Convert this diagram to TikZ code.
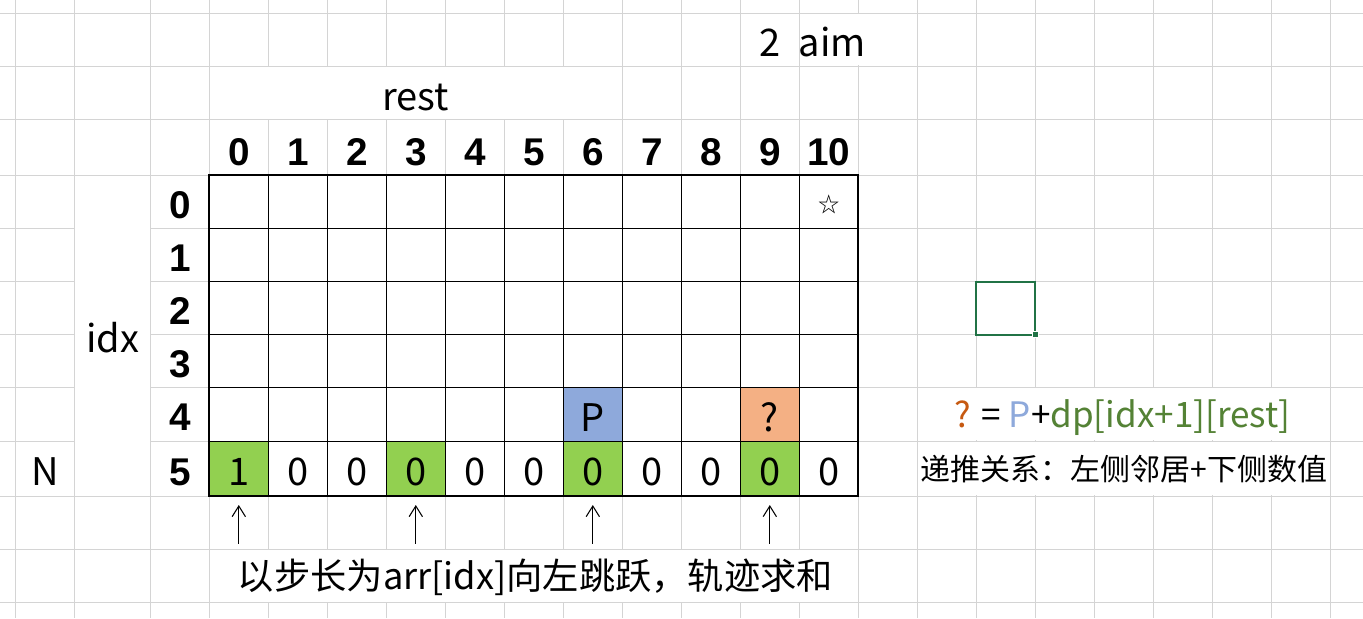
\documentclass[tikz,border=0pt]{standalone}
\usepackage{fontspec}
\setmainfont{Noto Sans CJK SC}
\newfontfamily\headfont{Liberation Sans}
\usetikzlibrary{arrows.meta}
\definecolor{gridgray}{HTML}{D4D4D4}
\definecolor{cellgreen}{HTML}{92D050}
\definecolor{cellblue}{HTML}{8EA9DB}
\definecolor{cellorange}{HTML}{F4B084}
\definecolor{qbrown}{HTML}{C65911}
\definecolor{dpgreen}{HTML}{548235}
\definecolor{selgreen}{HTML}{217346}
\begin{document}
\begin{tikzpicture}[x=0.75pt, y=-0.75pt,
  every node/.style = {inner sep=0pt, font=\fontsize{28.5}{30}\selectfont},
  gridline/.style = {draw=gridgray, line width=0.75pt},
  cellline/.style = {draw=black, line width=0.75pt},
  merged/.style = {fill=white},
  head/.style = {anchor=base, font=\headfont\bfseries\fontsize{29}{30}\selectfont},
  val/.style = {anchor=base},
  jump/.style = {-{Straight Barb[length=8pt,width=10pt]}, line width=0.8pt}]
  \fill[white] (0,0) rectangle (1363,618);
  \useasboundingbox (0,0) rectangle (1363,618);
  % sheet grid
  \foreach \x in {15.7,74.3,150.7} \draw[gridline] (\x,0) -- (\x,618);
  \foreach \k in {0,...,19} \draw[gridline] ({209.3+59*\k},0) -- ({209.3+59*\k},618);
  \foreach \y in {13.3,66,119.3,175,228.3,281.5,334.5,387.5,441,496,549.3,602.5}
    \draw[gridline] (0,\y) -- (1363,\y);
  \fill[merged] (210,66.6) rectangle (621.6,118.7);
  \fill[merged] (800,13.9) rectangle (916.6,65.4);
  \fill[merged] (74.9,175.6) rectangle (150.1,495.4);
  \fill[merged] (917.9,388.1) rectangle (1329.9,440.4);
  \fill[merged] (917.9,441.6) rectangle (1329.9,495.4);
  \fill[merged] (209.9,549.9) rectangle (857.7,601.9);
  % dp table
  \fill[white] (209.3,175) rectangle (858.3,496);
  \foreach \c in {0,3,6,9} \fill[cellgreen] ({209.3+59*\c},441) rectangle ({268.3+59*\c},496);
  \fill[cellblue] (563.3,387.5) rectangle (622.3,441);
  \fill[cellorange] (740.3,387.5) rectangle (799.3,441);
  \foreach \k in {1,...,10} \draw[cellline] ({209.3+59*\k},175) -- ({209.3+59*\k},496);
  \foreach \y in {228.3,281.5,334.5,387.5,441} \draw[cellline] (209.3,\y) -- (858.3,\y);
  \draw[line width=1.6pt] (209.3,175) rectangle (858.3,496);
  % selected cell
  \draw[selgreen, line width=1.5pt] (976.3,281.5) rectangle (1035.3,334.5);
  \filldraw[fill=selgreen, draw=white, line width=0.5pt] (1032.3,331.5) rectangle (1038.3,337.5);

  \node[val] (two) at (769.7,56.7) {2};
  \node[val, anchor=base west] (aim) at (798.5,56.7) {aim};
  \node[val] (rest) at (415.8,110) {rest};
  \foreach \c in {0,...,10} \node[head] (col\c) at ({238.8+59*\c},165) {\c};
  \foreach \r/\y in {0/201.7,1/254.9,2/308,3/361,4/414.3,5/468.5}
    \node[head] (row\r) at (180,{\y+16.5}) {\r};
  \node[val] (idx) at (112.5,352.7) {idx};
  \node[val] (N) at (45,485) {N};
  \node (star) at (828.8,204) {\fontsize{16}{16}\selectfont ☆};
  \node[val] (cell-4-6) at (592.8,431) {P};
  \node[val] (cell-4-9) at (769.8,431) {?};
  \foreach \c/\v in {0/1,1/0,2/0,3/0,4/0,5/0,6/0,7/0,8/0,9/0,10/0}
    \node[val] (cell-5-\c) at ({238.8+59*\c},485) {\v};
  \foreach \c in {0,3,6,9} {
    \coordinate (tail\c) at ({238.8+59*\c},543.5);
    \coordinate (tip\c) at ({238.8+59*\c},505);
    \draw[jump] (tail\c) -- (tip\c);
  }
  \node (caption) at (535.5,577) {\fontsize{27.2}{30}\selectfont 以步长为arr[idx]向左跳跃，轨迹求和};
  \node[val] (formula) at (1122.5,427) {\fontsize{26.3}{28}\selectfont
    {\color{qbrown}?} = {\color{cellblue}P}+{\color{dpgreen}dp[idx+1][rest]}};
  \node (rule) at (1124,469) {\fontsize{22.5}{24}\selectfont 递推关系：左侧邻居+下侧数值};
\end{tikzpicture}
\end{document}
